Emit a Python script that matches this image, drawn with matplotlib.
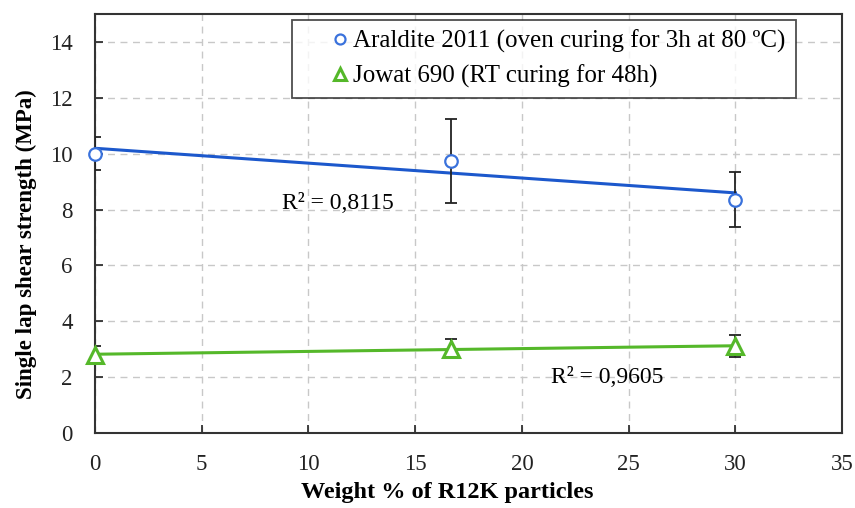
import numpy as np
import matplotlib
matplotlib.use("Agg")
import matplotlib.pyplot as plt

plt.rcParams['font.family'] = ['Liberation Serif', 'DejaVu Serif']

# data
wt_pct = [0, 16.7, 30]
araldite = [10.0, 9.75, 8.35]
araldite_err = [0.6, 1.5, 0.98]
jowat = [2.8, 3.02, 3.1]
jowat_err = [0.3, 0.35, 0.39]

araldite_label = "Araldite 2011 (oven curing for 3h at 80 \u00baC)"
jowat_label = "Jowat 690 (RT curing for 48h)"
r2_araldite = "R\u00b2 = 0,8115"
r2_jowat = "R\u00b2 = 0,9605"

blue = "#1c58cc"
blue_mk = "#3a72dc"
green = "#55b82a"

fig = plt.figure(figsize=(8.55, 5.08), dpi=100)
ax = fig.add_axes([0.111, 0.148, 0.874, 0.824])

x = np.array(wt_pct)
xx = np.array([0, 30])

# linear trendlines
for y, c in [(araldite, blue), (jowat, green)]:
    p = np.polyfit(x, y, 1)
    ax.plot(xx, np.polyval(p, xx), color=c, lw=2.2, zorder=2)

for y, e in [(araldite, araldite_err), (jowat, jowat_err)]:
    ax.errorbar(x, y, yerr=e, fmt='none', ecolor='#222222',
                elinewidth=1.3, capsize=4, capthick=1.3, zorder=3)

ax.plot(x, araldite, 'o', ms=9, mfc='white', mec=blue_mk, mew=1.6,
        ls='none', label=araldite_label, zorder=4, clip_on=False)
ax.plot(x, jowat, '^', ms=11.5, mfc='white', mec=green, mew=2.2,
        ls='none', label=jowat_label, zorder=4, clip_on=False)

ax.text(11.4, 8.2, r2_araldite, fontsize=17, ha='center', va='center')
ax.text(24.0, 2.0, r2_jowat, fontsize=17, ha='center', va='center')

ax.set_xlim(0, 35)
ax.set_ylim(0, 15)
ax.set_xticks(range(0, 36, 5))
ax.set_yticks(range(0, 15, 2))
ax.tick_params(direction='in', labelsize=16.5, length=6, width=1.2,
               colors='#222222')
ax.tick_params(axis='x', pad=15)
ax.tick_params(axis='y', pad=16)
ax.grid(True, ls=(0, (5, 4)), color='#c8c8c8', lw=1)
ax.set_axisbelow(True)
for s in ax.spines.values():
    s.set_color('#333333')
    s.set_linewidth(1.5)

ax.set_xlabel("Weight % of R12K particles", fontsize=17.5, fontweight='bold')
ax.set_ylabel("Single lap shear strength (MPa)", fontsize=16.5,
              fontweight='bold')
ax.xaxis.set_label_coords(0.471, -0.117)
ax.yaxis.set_label_coords(-0.078, 0.451)

leg = ax.legend(loc='upper left', bbox_to_anchor=(0.264, 0.986), fontsize=18,
                frameon=True, fancybox=False, edgecolor='#222222',
                handlelength=3.0, handletextpad=-0.95, borderpad=0.4,
                labelspacing=0.45, borderaxespad=0, markerscale=0.8)
leg.get_frame().set_linewidth(1.3)
leg.set_zorder(5)

fig.savefig("out.png", dpi=100)
